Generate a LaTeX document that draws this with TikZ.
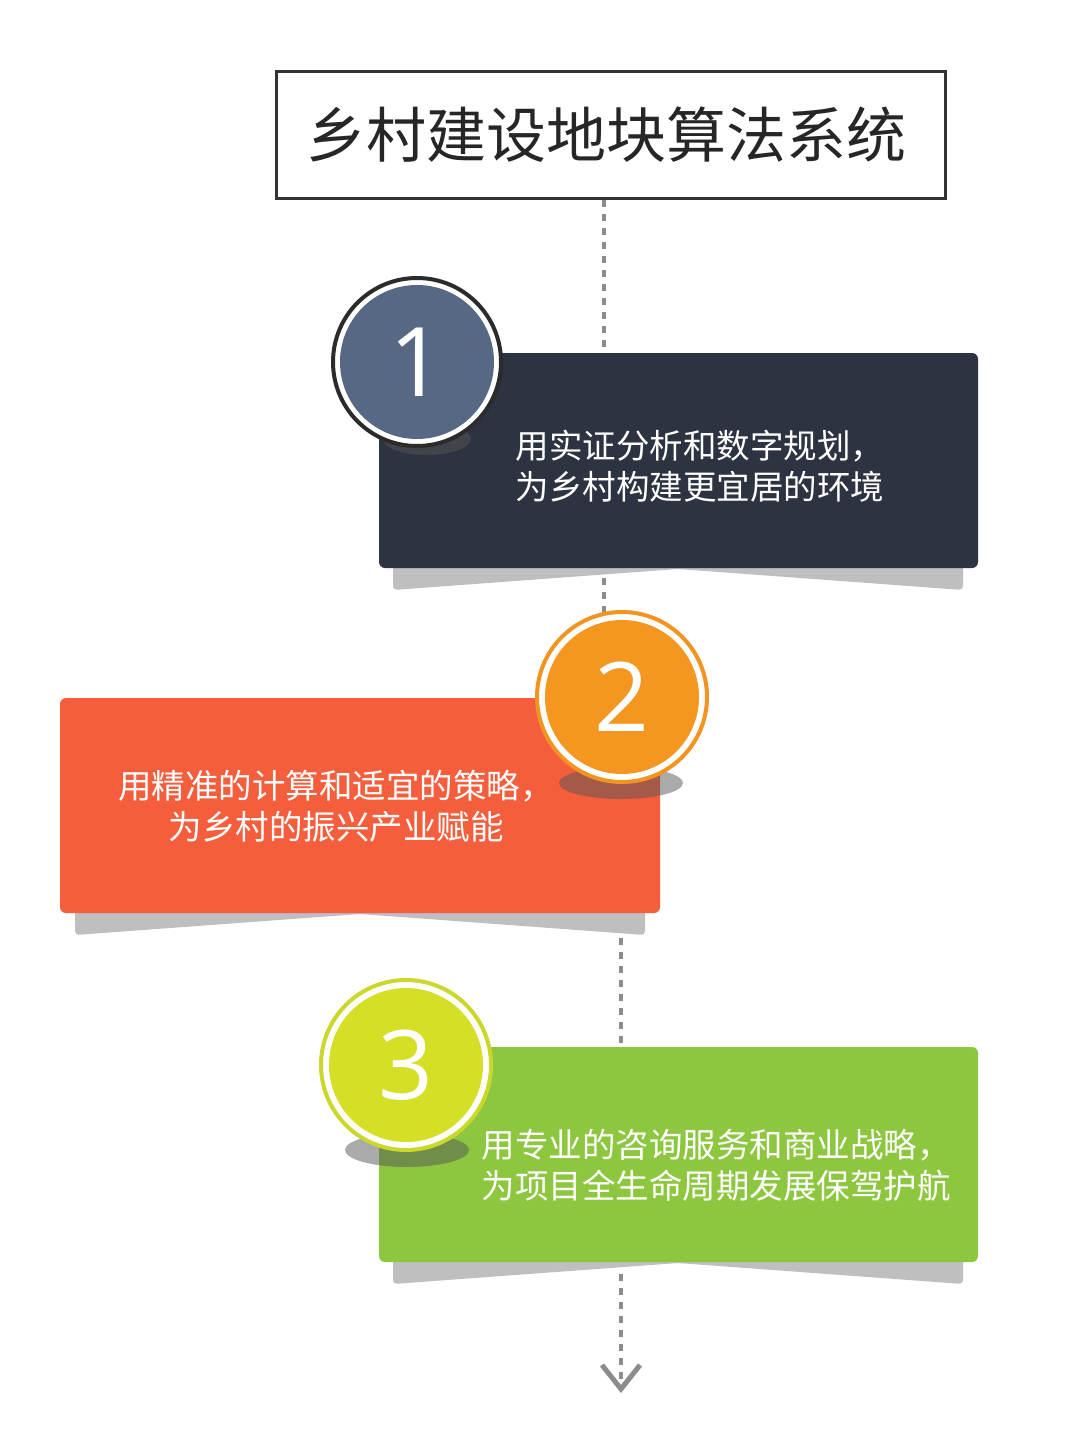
\documentclass[tikz,border=0pt]{standalone}
\usepackage{fontspec}
\newfontfamily\cjk{Noto Sans CJK SC}
\newfontfamily\numf{Open Sans}
\usetikzlibrary{calc}
\definecolor{boxdark}{HTML}{2D3340}
\definecolor{boxred}{HTML}{F55E3C}
\definecolor{boxgreen}{HTML}{8DC63F}
\definecolor{slate}{HTML}{566883}
\definecolor{ringdark}{HTML}{2B2B2B}
\definecolor{orangefill}{HTML}{F4961F}
\definecolor{orangering}{HTML}{F39320}
\definecolor{limefill}{HTML}{D4DF26}
\definecolor{limering}{HTML}{C9D82B}
\definecolor{shadowgray}{HTML}{BFBFBF}
\definecolor{blobgray}{HTML}{565656}
\definecolor{dashgray}{HTML}{8C8C8C}
\definecolor{titleline}{HTML}{333333}
\tikzset{
  dashline/.style={draw=dashgray, line width=4pt, dash pattern=on 7pt off 7pt},
  chevron/.style={draw=dashgray, line width=5pt, line join=miter},
  card/.style={rounded corners=6pt, minimum width=599pt, minimum height=215pt, inner sep=0pt},
  cardtext/.style={text=white, align=center, font=\cjk\fontsize{33.5}{41}\selectfont, inner sep=0pt},
  ringout/.style={circle, minimum size=168pt, inner sep=0pt, fill=white, line width=4pt},
  ringin/.style={circle, minimum size=154pt, inner sep=0pt, text=white, font=\numf\fontsize{96}{96}\selectfont},
  blob/.style={fill=blobgray, fill opacity=0.5},
}
\begin{document}
\begin{tikzpicture}[x=1pt,y=-1pt]
\useasboundingbox (0,0) rectangle (1080,1450);
\fill[white] (0,0) rectangle (1080,1450);

% title
\node[draw=titleline, line width=3pt, minimum width=669pt, minimum height=127pt, inner sep=0pt,
      font=\cjk\fontsize{60}{72}\selectfont, text=black!85] (title) at (611,135) {\hspace*{-10pt}乡村建设地块算法系统};

% named coordinates for connector ends
\coordinate (d1) at (604,615);
\coordinate (c2top) at (621,700);
\coordinate (tipend) at (621,1389);

% dashed connectors (behind everything)
\draw[dashline] (title.south -| d1) -- (d1);
\draw[dashline] (c2top) -- (tipend);
\draw[chevron] ($(tipend)+(-19,-24)$) -- (tipend) -- ($(tipend)+(19,-24)$);

% card 1
\fill[shadowgray, rounded corners=4pt] (393,560) -- (393,590) -- (678,569) -- (963,590) -- (963,560) -- cycle;
\node[card, fill=boxdark] (b1) at (678.5,460.5) {};
\node[cardtext] (t1) at (700,466) {用实证分析和数字规划，\\为乡村构建更宜居的环境};

% card 2
\fill[shadowgray, rounded corners=4pt] (75,905) -- (75,935) -- (360,914) -- (645,935) -- (645,905) -- cycle;
\node[card, fill=boxred, minimum width=600pt] (b2) at (360,805.5) {};
\node[cardtext] (t2) at (336,806) {用精准的计算和适宜的策略，\\为乡村的振兴产业赋能};

% card 3
\fill[shadowgray, rounded corners=4pt] (393,1254) -- (393,1284) -- (678,1263) -- (963,1284) -- (963,1254) -- cycle;
\node[card, fill=boxgreen] (b3) at (678.5,1154.5) {};
\node[cardtext] (t3) at (716,1165) {用专业的咨询服务和商业战略，\\为项目全生命周期发展保驾护航};

% circle shadows
\fill[blob] (427,439) ellipse [x radius=44pt, y radius=16pt];
\fill[blob] (621,783) ellipse [x radius=62pt, y radius=16pt];
\fill[blob] (407,1150) ellipse [x radius=62pt, y radius=17pt];

% circle 1
\node[ringout, draw=ringdark] (c1) at (417,362) {};
\node[ringin, fill=slate] (n1) at (c1) {1};
% circle 2
\node[ringout, draw=orangering, minimum size=170pt] (c2) at (622,697) {};
\node[ringin, fill=orangefill] (n2) at (c2) {2};
% circle 3
\node[ringout, draw=limering, minimum size=170pt] (c3) at (406,1065) {};
\node[ringin, fill=limefill] (n3) at (c3) {3};
\end{tikzpicture}
\end{document}
